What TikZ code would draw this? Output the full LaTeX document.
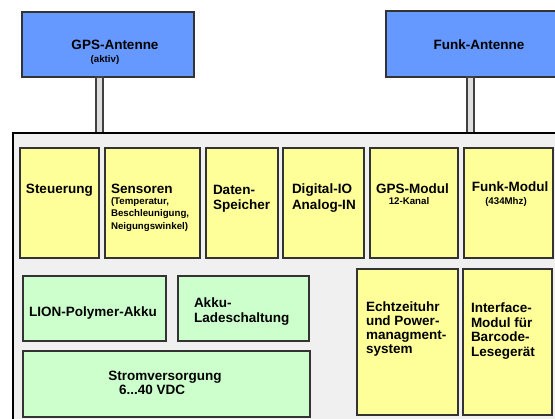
\documentclass[tikz,border=0pt]{standalone}
\usepackage{fontspec}
\setmainfont{Liberation Sans}
\begin{document}
\begin{tikzpicture}[x=1pt,y=-1pt,
  box/.style={draw=black!80,line width=1.5pt,anchor=north west,inner sep=0pt,outer sep=0pt},
  antbox/.style={box,fill=antblue},
  ybox/.style={box,fill=boxyellow},
  gbox/.style={box,fill=boxgreen},
  panel/.style={draw=black,line width=2pt,fill=panelgray,anchor=north west,inner sep=0pt,outer sep=0pt},
  big/.style={font=\fontsize{13.5}{15}\selectfont\bfseries,inner sep=0pt,outer sep=0pt},
  small/.style={font=\fontsize{9.7}{11}\selectfont\bfseries,inner sep=0pt,outer sep=0pt},
  feed/.style={draw=black!75,fill=black!13,line width=1.2pt,anchor=north,inner sep=0pt,outer sep=0pt,minimum width=7pt}
]
\definecolor{antblue}{HTML}{6699FF}
\definecolor{boxyellow}{HTML}{FFFF99}
\definecolor{boxgreen}{HTML}{CCFFCC}
\definecolor{panelgray}{HTML}{F0F0F0}
\useasboundingbox (0,0) rectangle (555,419);
\fill[white] (0,0) rectangle (555,419);

% antennas
\node[antbox,minimum width=172pt,minimum height=65pt] (gpsant) at (22,12) {};
\node[antbox,minimum width=176pt,minimum height=66pt] (funkant) at (386,11) {};

% feed lines
\node[feed,minimum height=57pt] (gpsfeed) at (99.5,77) {};
\node[feed,minimum height=57pt] (funkfeed) at (470.5,77) {};

% main panel
\node[panel,minimum width=550pt,minimum height=295pt] (main) at (13,133) {};

% row 1
\node[ybox,minimum width=79pt,minimum height=110pt] (steu) at (20,148) {};
\node[ybox,minimum width=95pt,minimum height=110pt] (sens) at (105,148) {};
\node[ybox,minimum width=72pt,minimum height=110pt] (daten) at (206,148) {};
\node[ybox,minimum width=81pt,minimum height=110pt] (dio) at (283,148) {};
\node[ybox,minimum width=88pt,minimum height=110pt] (gpsmod) at (370,148) {};
\node[ybox,minimum width=89pt,minimum height=110pt] (funkmod) at (464,148) {};

% green boxes
\node[gbox,minimum width=143pt,minimum height=65pt] (lion) at (23,276) {};
\node[gbox,minimum width=131pt,minimum height=65pt] (lade) at (178,276) {};
\node[gbox,minimum width=287pt,minimum height=66pt] (strom) at (23,351) {};

% row 2 yellow
\node[ybox,minimum width=101pt,minimum height=146pt] (rtc) at (357,269) {};
\node[ybox,minimum width=89pt,minimum height=146pt] (iface) at (463,269) {};

% texts
\node[big,anchor=base] (t1) at (115,50) {GPS-Antenne};
\node[small,anchor=base] (t2) at (105,63) {(aktiv)};
\node[big,anchor=base] (t3) at (479,50) {Funk-Antenne};

\node[big,anchor=base west] (t4) at (26,194) {Steuerung};
\node[big,anchor=base west] (t5) at (111,194) {Sensoren};
\node[small,anchor=base west] (t6) at (111,205) {(Temperatur,};
\node[small,anchor=base west] (t7) at (111,217) {Beschleunigung,};
\node[small,anchor=base west] (t8) at (111,230) {Neigungswinkel)};
\node[big,anchor=base west] (t9) at (213,195) {Daten-};
\node[big,anchor=base west] (t10) at (213,210) {Speicher};
\node[big,anchor=base west] (t11) at (292,194) {Digital-IO};
\node[big,anchor=base west] (t12) at (292,210) {Analog-IN};
\node[big,anchor=base] (t13) at (412.5,194) {GPS-Modul};
\node[small,anchor=base] (t14) at (409,205) {12-Kanal};
\node[big,anchor=base] (t15) at (510,192) {Funk-Modul};
\node[small,anchor=base] (t16) at (506,205) {(434Mhz)};

\node[big,anchor=base] (t17) at (93,317) {LION-Polymer-Akku};
\node[big,anchor=base west] (t18) at (194,308) {Akku-};
\node[big,anchor=base west] (t19) at (194,323) {Ladeschaltung};
\node[big,anchor=base] (t20) at (165,381) {Stromversorgung};
\node[big,anchor=base west] (t21) at (119,395) {6...40 VDC};

\node[big,anchor=base west] (t22) at (366,312) {Echtzeituhr};
\node[big,anchor=base west] (t23) at (366,326) {und Power-};
\node[big,anchor=base west] (t24) at (366,340) {managment-};
\node[big,anchor=base west] (t25) at (366,354) {system};
\node[big,anchor=base west] (t26) at (471,313) {Interface-};
\node[big,anchor=base west] (t27) at (471,328) {Modul für};
\node[big,anchor=base west] (t28) at (471,342) {Barcode-};
\node[big,anchor=base west] (t29) at (471,357) {Lesegerät};
\end{tikzpicture}
\end{document}
